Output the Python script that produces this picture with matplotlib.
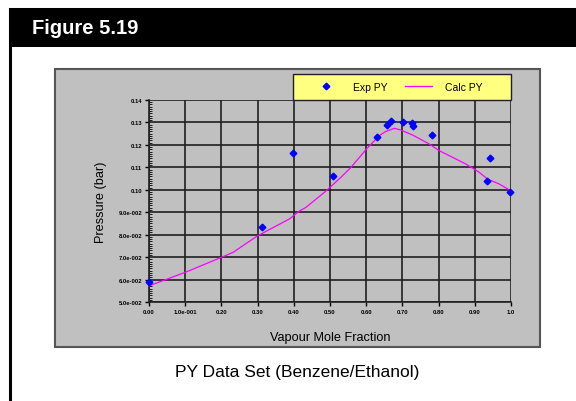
import numpy as np
import matplotlib
matplotlib.use("Agg")
import matplotlib.pyplot as plt
from matplotlib.patches import Rectangle
from matplotlib.ticker import FixedLocator, MultipleLocator

# experimental points (vapour mole fraction, pressure in bar)
exp_x = [0.0, 0.313, 0.397, 0.508, 0.631, 0.657, 0.669, 0.701, 0.726, 0.730, 0.783, 0.942, 0.935, 0.997]
exp_y = [0.059, 0.0835, 0.1165, 0.1063, 0.1235, 0.129, 0.1305, 0.130, 0.1297, 0.1283, 0.1245, 0.1143, 0.104, 0.0989]

# calculated curve
calc_x = [0.0, 0.1, 0.2, 0.232, 0.3, 0.388, 0.415, 0.434, 0.49, 0.535, 0.558, 0.601, 0.636, 0.653,
          0.678, 0.696, 0.728, 0.774, 0.802, 0.838, 0.875, 0.912, 0.935, 0.967, 1.0]
calc_y = [0.0572, 0.0632, 0.0699, 0.0721, 0.0795, 0.087, 0.0905, 0.0922, 0.0996, 0.1063, 0.110, 0.1182,
          0.1241, 0.1259, 0.1274, 0.1266, 0.1244, 0.1204, 0.1174, 0.1145, 0.1115, 0.1078, 0.1048,
          0.1026, 0.0995]

x_ticks = [0.0, 0.1, 0.2, 0.3, 0.4, 0.5, 0.6, 0.7, 0.8, 0.9, 1.0]
x_labels = ["0.00", "1.0e-001", "0.20", "0.30", "0.40", "0.50", "0.60", "0.70", "0.80", "0.90", "1.0"]
y_ticks = [0.05, 0.06, 0.07, 0.08, 0.09, 0.10, 0.11, 0.12, 0.13, 0.14]
y_labels = ["5.0e-002", "6.0e-002", "7.0e-002", "8.0e-002", "9.0e-002", "0.10", "0.11", "0.12", "0.13", "0.14"]

W, H = 576, 402
fig = plt.figure(figsize=(W / 100, H / 100), dpi=100)
fig.patch.set_facecolor("white")
plt.rcParams["font.family"] = ["Liberation Sans", "DejaVu Sans"]

def fx(px):
    return px / W

def fy(py):
    return 1 - py / H

# outer frame + black title bar
fig.add_artist(Rectangle((fx(9.5), fy(420)), fx(600), 410 / H, transform=fig.transFigure,
                         facecolor="none", edgecolor="black", lw=2.2, zorder=0))
fig.add_artist(Rectangle((fx(9), fy(48)), fx(580), 38 / H, transform=fig.transFigure,
                         facecolor="black", edgecolor="none", zorder=1))
fig.text(fx(32), fy(28), "Figure 5.19", color="white", fontsize=14.5, fontweight="bold",
         va="center", ha="left")

# gray chart panel
fig.add_artist(Rectangle((fx(55), fy(348)), fx(485), 278 / H, transform=fig.transFigure,
                         facecolor="#c0c0c0", edgecolor="#555555", lw=1.5, zorder=1))

ax = fig.add_axes([fx(149), fy(303), fx(511 - 149), (303 - 101) / H])
ax.set_facecolor("#c0c0c0")
ax.set_zorder(2)

ax.plot(calc_x, calc_y, color="#ff00ff", lw=0.9, label="Calc PY", zorder=3, clip_on=False)
ax.plot(exp_x, exp_y, linestyle="none", marker="D", ms=3.4, color="#0000ff", label="Exp PY",
        zorder=4, clip_on=False)

ax.set_xlim(0, 1.0)
ax.set_ylim(0.05, 0.14)
ax.xaxis.set_major_locator(FixedLocator(x_ticks))
ax.yaxis.set_major_locator(FixedLocator(y_ticks))
ax.set_xticklabels(x_labels, fontsize=4.2, fontweight="bold")
ax.set_yticklabels(y_labels, fontsize=4.2, fontweight="bold")
ax.yaxis.set_minor_locator(MultipleLocator(0.001))
ax.tick_params(axis="both", which="major", length=3, width=1, direction="out", pad=2)
ax.tick_params(axis="y", which="minor", length=2, width=0.6, direction="in")
ax.grid(True, which="major", color="#202020", lw=1.2)
for s in ["top", "right"]:
    ax.spines[s].set_visible(False)
for s in ["left", "bottom"]:
    ax.spines[s].set_color("#202020")
    ax.spines[s].set_linewidth(1.2)

ax.set_xlabel("Vapour Mole Fraction", fontsize=9.2, labelpad=12)
ax.set_ylabel("Pressure (bar)", fontsize=9.2, labelpad=8)

# yellow legend box sitting on top of the plot area
fig.add_artist(Rectangle((fx(293), fy(101)), fx(511 - 293), 26 / H, transform=fig.transFigure,
                         facecolor="#ffff80", edgecolor="#202020", lw=1.0, zorder=3))
handles, labels = ax.get_legend_handles_labels()
leg = fig.legend(handles[::-1], labels[::-1], ncol=2, loc="center left",
                 bbox_to_anchor=(fx(307.5), fy(88)), fontsize=7.5, frameon=False,
                 borderpad=0, handlelength=2.6, handletextpad=1.3, columnspacing=1.6)
leg.set_zorder(4)

fig.text(fx(297), fy(373), "PY Data Set (Benzene/Ethanol)", fontsize=12.5, ha="center", va="center")

fig.savefig("out.png", dpi=100)
